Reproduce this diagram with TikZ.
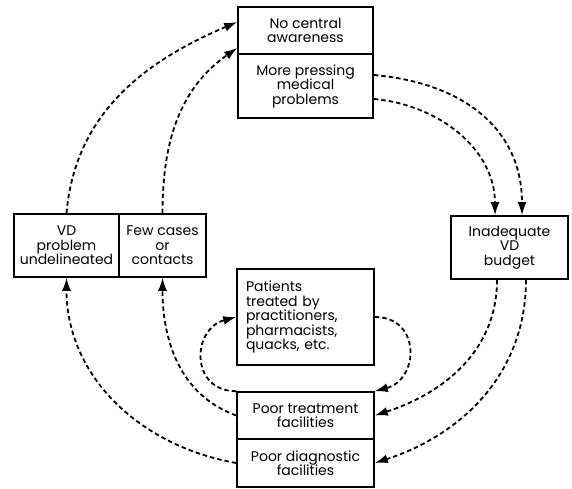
\documentclass[tikz,border=0pt]{standalone}
\usepackage{fontspec}
\setmainfont{Poppins}
\usetikzlibrary{arrows.meta}
\begin{document}
\begin{tikzpicture}[x=1pt,y=-1pt]
\useasboundingbox (0,0) rectangle (572,488);
\tikzstyle{every node}=[draw,line width=1.6pt,align=center,inner sep=2pt,font=\fontsize{14}{14.5}\selectfont];
\tikzstyle{every edge}=[draw,-{Latex[length=13pt,width=9pt]},line width=1.8pt,dash pattern=on 4.5pt off 3pt];
\node[minimum width=135pt,minimum height=47pt] (nocentral) at (305.5,30.5) {No central\\awareness};
\node[minimum width=135pt,minimum height=64pt] (pressing) at (305.5,86) {More pressing\\medical\\problems};
\node[minimum width=105pt,minimum height=63pt] (vdprob) at (66.5,245.5) {VD\\problem\\undelineated};
\node[minimum width=87pt,minimum height=63pt] (fewcases) at (162.5,245.5) {Few cases\\or\\contacts};
\node[minimum width=117pt,minimum height=63pt] (budget) at (509.5,247.5) {Inadequate\\VD\\budget};
\node[minimum width=137pt,minimum height=96pt,align=left,inner xsep=9pt,text width=119pt] (patients) at (305.5,317) {Patients\\treated by\\practitioners,\\pharmacists,\\quacks, etc.};
\node[minimum width=137pt,minimum height=47pt] (treatment) at (305.5,415.5) {Poor treatment\\facilities};
\node[minimum width=137pt,minimum height=48pt] (diagnostic) at (305.5,463) {Poor diagnostic\\facilities};
\path
(vdprob.north) edge[out=85,in=203] ([yshift=8.5pt]nocentral.west)
(fewcases.north) edge[out=90,in=215] ([yshift=-17.5pt]nocentral.west)
([yshift=11pt]pressing.east) edge[out=-5,in=90,looseness=1.1] ([xshift=12.5pt]budget.north)
([yshift=-13pt]pressing.east) edge[out=-5,in=90] ([xshift=-14.5pt]budget.north)
([xshift=-12.5pt]budget.south) edge[out=-90,in=18] (treatment.east)
([xshift=16.5pt]budget.south) edge[out=-90,in=18] (diagnostic.east)
(treatment.west) edge[out=160,in=-90] (fewcases.south)
(diagnostic.west) edge[out=170,in=-90] (vdprob.south)
(treatment.north west) edge[out=180,in=195,looseness=1.6] (patients.west)
(patients.east) edge[out=0,in=15,looseness=1.6] (treatment.north east)
;
\end{tikzpicture}
\end{document}
